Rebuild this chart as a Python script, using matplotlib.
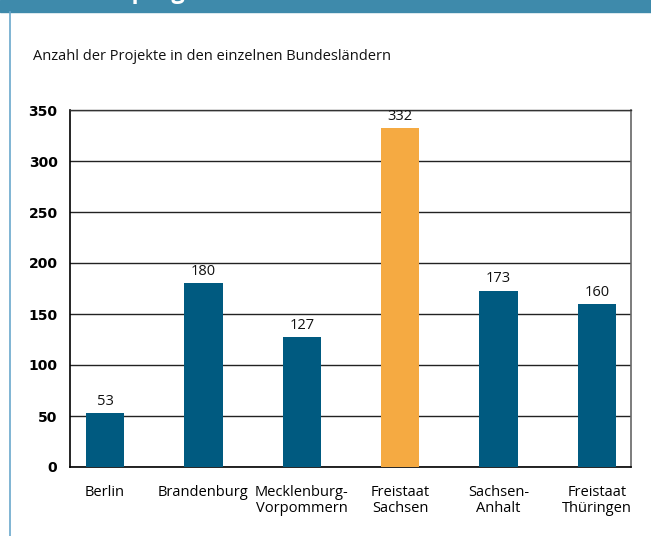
import matplotlib
matplotlib.use("Agg")
from matplotlib import pyplot as plt
from matplotlib.lines import Line2D

laender = ["Berlin", "Brandenburg", "Mecklenburg-\nVorpommern",
           "Freistaat\nSachsen", "Sachsen-\nAnhalt", "Freistaat\nThüringen"]
projekte = [53, 180, 127, 332, 173, 160]
yticks = [0, 50, 100, 150, 200, 250, 300, 350]

blue = "#005a80"
orange = "#f5aa42"
colors = [orange if v == max(projekte) else blue for v in projekte]
txtfont = ["Open Sans", "DejaVu Sans"]

fig = plt.figure(figsize=(6.51, 5.36), dpi=100)

# teal banner on top, heading mostly cut off by the page edge
fig.patches.append(plt.Rectangle((0, 1 - 12 / 536), 1, 12 / 536, transform=fig.transFigure,
                                 color="#3e8aab", zorder=0))
fig.text(0.085, 1 + 1.5 / 536, "Förderprogramm", color="white", fontsize=17, fontweight="bold",
         family=txtfont, va="baseline", ha="left")
fig.lines.append(Line2D([9.5 / 651, 9.5 / 651], [0, 1 - 12 / 536], transform=fig.transFigure,
                        color="#6aa8cc", lw=1.2))

fig.text(33 / 651, 1 - 57 / 536, "Anzahl der Projekte in den einzelnen Bundesländern",
         fontsize=10.5, family=txtfont, va="center", ha="left", color="#111111")

ax = fig.add_axes([70 / 651, 69 / 536, 561 / 651, 357 / 536])
x = range(len(laender))
ax.bar(x, projekte, width=0.39, color=colors, zorder=3)
for xi, v in zip(x, projekte):
    ax.annotate(str(v), (xi, v), xytext=(0, 3), textcoords="offset points",
                ha="center", va="bottom", fontsize=10.5, family=txtfont, color="#111111")

ax.set_xlim(-0.356, 5.345)
ax.set_ylim(0, 350)
ax.set_yticks(yticks)
ax.set_yticklabels([str(t) for t in yticks], fontweight="bold", fontsize=10)
ax.set_xticks(list(x))
ax.set_xticklabels(laender, fontsize=10.5, family=txtfont, linespacing=1.12)
ax.tick_params(axis="y", length=0, pad=9)
ax.tick_params(axis="x", length=0, pad=13)
ax.grid(axis="y", color="#222222", lw=1.0, zorder=1)
for s in ["left", "bottom"]:
    ax.spines[s].set_color("black")
    ax.spines[s].set_linewidth(1.2)
ax.spines["right"].set_color("#666666")
ax.spines["right"].set_linewidth(1.2)
ax.spines["top"].set_color("#333333")
ax.spines["top"].set_linewidth(1.0)

fig.savefig("out.png", dpi=100)
